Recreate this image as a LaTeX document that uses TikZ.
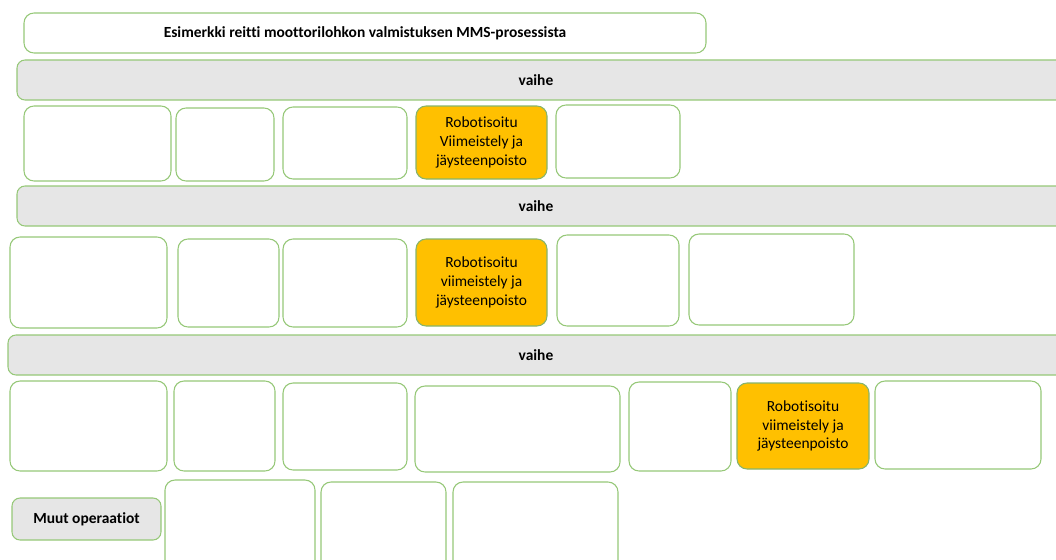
\documentclass[tikz,border=0pt]{standalone}
\usepackage{fontspec}
\setmainfont{Carlito}[Ligatures=NoCommon]
\definecolor{edgegreen}{RGB}{150,200,120}
\definecolor{bargray}{RGB}{230,230,230}
\definecolor{robotyellow}{RGB}{255,192,0}
\tikzset{
	box/.style={draw=edgegreen,line width=0.8pt,rounded corners=7.5pt,fill=white},
	bar/.style={box,fill=bargray,rounded corners=6pt},
	robot/.style={box,fill=robotyellow,draw=edgegreen!90!black},
	robottext/.style={align=center,font=\fontsize{11.6}{14.2}\selectfont},
	bartext/.style={font=\fontsize{11.6}{13}\selectfont\bfseries}
}
\begin{document}
\begin{tikzpicture}[x=0.75pt,y=-0.75pt]
	\useasboundingbox (0,0) rectangle (1056,560);
	\clip (0,0) rectangle (1056,560);
	% otsikko ja vaiheet
	\draw[box] (24,13) rectangle (706,53);
	\node[bartext] (otsikko) at (365,33) {Esimerkki reitti moottorilohkon valmistuksen MMS-prosessista};
	\foreach \y/\x/\n in {60/17/1,186/17/2,335/8/3} {
		\draw[bar] (\x,\y) rectangle (1070,\y+40);
		\node[bartext] (vaihe\n) at (536,\y+20) {vaihe};
	}
	% tyhjat laatikot
	\foreach \xa/\ya/\xb/\yb in {
		24/106/171/181, 176/108/274/181, 283/107/407/179, 556/105/680/178,
		10/237/167/328, 178/239/279/327, 283/239/407/327, 557/235/679/326, 689/234/854/325,
		10/381/167/471, 174/381/275/471, 283/383/407/470, 415/386/620/472, 629/382/731/471, 875/381/1041/469,
		165/480/315/575, 321/482/446/575, 453/482/618/575}
		\draw[box] (\xa,\ya) rectangle (\xb,\yb);
	% robotisoidut vaiheet
	\draw[robot] (416,106) rectangle (547,179);
	\node[robottext] (robot1) at (481.5,142.5) {Robotisoitu\\Viimeistely ja\\jäysteenpoisto};
	\draw[robot] (416,239) rectangle (547,326);
	\node[robottext] (robot2) at (481.5,282.5) {Robotisoitu\\viimeistely ja\\jäysteenpoisto};
	\draw[robot] (737,383) rectangle (869,469);
	\node[robottext] (robot3) at (803,426) {Robotisoitu\\viimeistely ja\\jäysteenpoisto};
	% muut
	\draw[bar] (12,498) rectangle (161,540);
	\node[bartext] (muut) at (86.5,519) {Muut operaatiot};
\end{tikzpicture}
\end{document}
